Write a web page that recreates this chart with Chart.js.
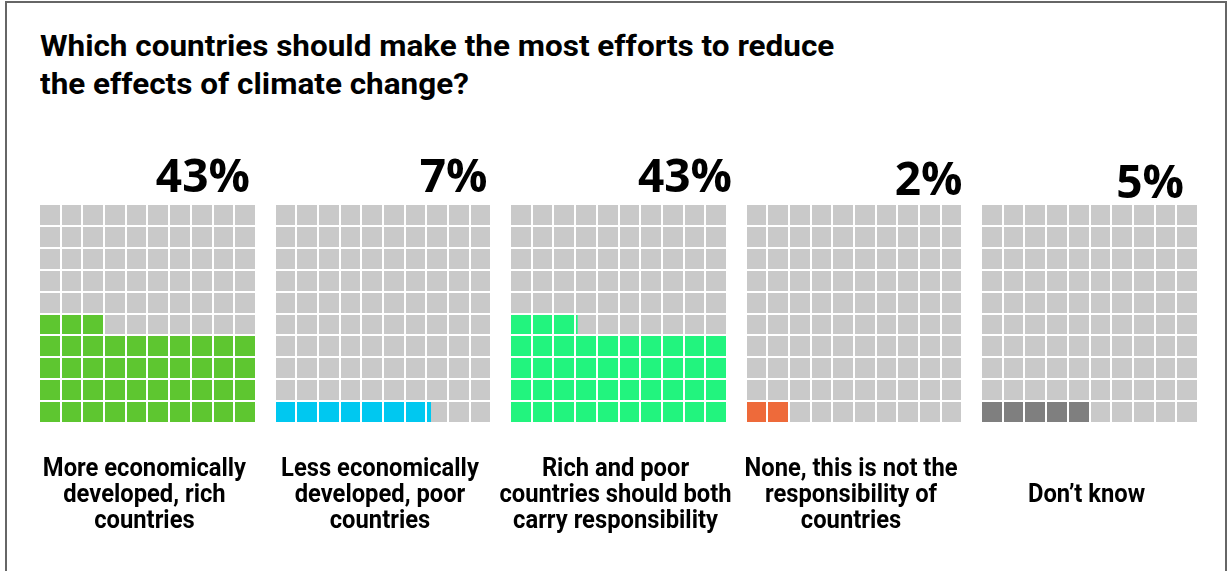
<!DOCTYPE html>
<html>
<head>
<meta charset="utf-8">
<title>Climate change efforts</title>
<script src="https://cdn.jsdelivr.net/npm/chart.js@4.4.0/dist/chart.umd.min.js"></script>
<style>
    html, body { margin: 0; padding: 0; background: #ffffff; }
    body { width: 1228px; height: 571px; position: relative; overflow: hidden; }
    .frame {
        position: absolute; left: 5px; top: 1px; width: 1218px; height: 620px;
        border: 2px solid #666666; border-bottom: none;
    }
    h1 {
        position: absolute; left: 40px; top: 27px; margin: 0;
        font: bold 29px/38px Roboto, sans-serif; color: #000000;
        white-space: nowrap;
        transform: scaleX(1.085); transform-origin: 0 0;
    }
    canvas { position: absolute; left: 0; top: 0; }
</style>
</head>
<body>
<div class="frame"></div>
<h1>Which countries should make the most efforts to reduce<br>the effects of climate change?</h1>
<canvas id="waffleChart" width="1228" height="571"></canvas>

<script>
// Survey answers, one waffle (10 x 10 cells) per answer
const categories = [
    ['More economically', 'developed, rich', 'countries'],
    ['Less economically', 'developed, poor', 'countries'],
    ['Rich and poor', 'countries should both', 'carry responsibility'],
    ['None, this is not the', 'responsibility of', 'countries'],
    ['Don\u2019t know']
];
const shares = [43, 7.2, 43.1, 2, 5];
const shareLabels = ['43%', '7%', '43%', '2%', '5%'];
const rows = ['1', '2', '3', '4', '5', '6', '7', '8', '9', '10'];

const colors = ['#5ec630', '#00c8f0', '#22f47e', '#ee6a3a', '#7f7f7f'];
const restColor = '#c9c9c9';

// layout: distance between waffles in cell units, label nudges in px
const GAP = 10.86;
const SPAN = 4 * GAP + 10;
const PCT_SHIFT = [-6, -4, 5, 0, -14];
const PCT_BASE = [192, 192, 192, 195, 198];

function rowFill(share, r) {
    return Math.max(0, Math.min(10, share - r * 10));
}

const datasets = [];
const cellEdges = [];
shares.forEach((share, p) => {
    const off = p * GAP;
    for (let k = 0; k <= 10; k++) cellEdges.push(off + k);

    datasets.push({
        label: categories[p].join(' '),
        data: rows.map((_, r) => {
            const f = rowFill(share, r);
            return f > 0 ? [off, off + f] : null;
        }),
        backgroundColor: colors[p]
    });
    datasets.push({
        label: 'rest',
        data: rows.map((_, r) => {
            const f = rowFill(share, r);
            return f < 10 ? [off + f, off + 10] : null;
        }),
        backgroundColor: restColor
    });
});

// percent figures above and answer text below each waffle
const panelText = {
    id: 'panelText',
    afterDraw(chart) {
        const ctx = chart.ctx;
        const x = chart.scales.x;
        ctx.save();
        ctx.fillStyle = '#000000';
        shares.forEach((s, p) => {
            const left = x.getPixelForValue(p * GAP);
            const right = x.getPixelForValue(p * GAP + 10);

            ctx.font = 'bold 46px "Open Sans"';
            ctx.textAlign = 'right';
            ctx.textBaseline = 'alphabetic';
            ctx.fillText(shareLabels[p], right + PCT_SHIFT[p], PCT_BASE[p]);

            // answer text, a bit narrower than plain Roboto, centred on line 2
            ctx.font = 'bold 25px Roboto';
            ctx.textAlign = 'center';
            ctx.textBaseline = 'alphabetic';
            const lines = categories[p];
            const y0 = 502 - (lines.length - 1) * 13;
            const cx = (left + right) / 2 - 3;
            lines.forEach((t, i) => {
                ctx.save();
                ctx.translate(cx, y0 + i * 26);
                ctx.scale(0.95, 1);
                ctx.fillText(t, 0, 0);
                ctx.restore();
            });
        });
        ctx.restore();
    }
};

new Chart(document.getElementById('waffleChart').getContext('2d'), {
    type: 'bar',
    data: { labels: rows, datasets: datasets },
    options: {
        indexAxis: 'y',
        responsive: false,
        animation: false,
        layout: { padding: { left: 39, top: 204, right: 30, bottom: 148 } },
        datasets: {
            bar: { grouped: false, barPercentage: 1, categoryPercentage: 1, borderWidth: 0 }
        },
        plugins: {
            legend: { display: false },
            tooltip: { enabled: false }
        },
        scales: {
            x: {
                type: 'linear',
                min: 0,
                max: SPAN,
                border: { display: false },
                ticks: { display: false },
                grid: { color: '#ffffff', lineWidth: 2, drawTicks: false, z: 1 },
                afterBuildTicks: function(scale) {
                    scale.ticks = cellEdges.map(v => ({ value: v }));
                }
            },
            y: {
                type: 'category',
                reverse: true,
                offset: true,
                border: { display: false },
                ticks: { display: false },
                grid: { color: '#ffffff', lineWidth: 2, drawTicks: false, offset: true, z: 1 }
            }
        }
    },
    plugins: [panelText]
});
</script>
</body>
</html>
